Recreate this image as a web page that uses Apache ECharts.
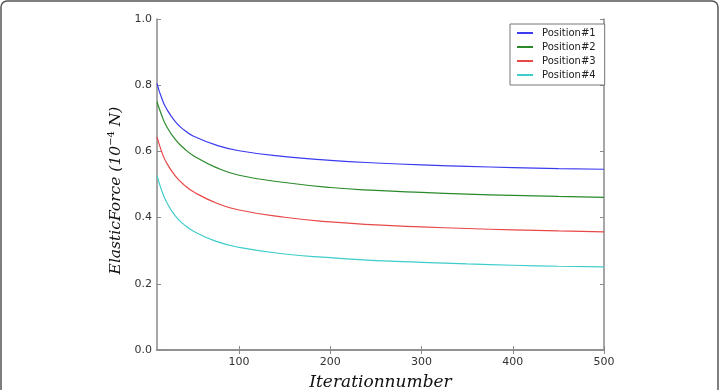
<!DOCTYPE html>
<html>
<head>
<meta charset="utf-8">
<script src="https://cdn.jsdelivr.net/npm/echarts@6/dist/echarts.min.js"></script>
<style>
html, body { margin: 0; padding: 0; background: #fff; }
#container { width: 721px; height: 390px; }
</style>
</head>
<body>
<div id="container"></div>
<script>
// iteration numbers where the curves were read
var iterations = [10, 15, 20, 30, 40, 50, 75, 100, 150, 200, 250, 300, 350, 400, 450, 500];
var pos1 = [0.805, 0.762, 0.731, 0.690, 0.664, 0.646, 0.619, 0.602, 0.584, 0.573, 0.565, 0.559, 0.555, 0.551, 0.548, 0.546];
var pos2 = [0.750, 0.710, 0.678, 0.636, 0.608, 0.587, 0.551, 0.528, 0.506, 0.491, 0.482, 0.476, 0.471, 0.467, 0.464, 0.461];
var pos3 = [0.644, 0.600, 0.568, 0.526, 0.498, 0.478, 0.444, 0.423, 0.401, 0.387, 0.378, 0.372, 0.367, 0.363, 0.360, 0.357];
var pos4 = [0.527, 0.483, 0.450, 0.405, 0.378, 0.359, 0.328, 0.310, 0.290, 0.279, 0.270, 0.265, 0.260, 0.256, 0.253, 0.251];
var names = ['Position#1', 'Position#2', 'Position#3', 'Position#4'];
var colors = ['#3b3bf0', '#2a8a2a', '#e84848', '#3fcccc'];
var xTicks = [100, 200, 300, 400, 500];

function pairs(ys) {
	var r = [];
	for (var i = 0; i < iterations.length; i++) r.push([iterations[i], ys[i]]);
	return r;
}

window.onload = function () {
	var myChart = echarts.init(document.getElementById('container'));
	var axisLine = { show: true, lineStyle: { color: '#8a8a8a', width: 1.5 } };
	var tickStyle = { show: true, inside: true, length: 4, lineStyle: { color: '#8a8a8a' } };
	var serif = '"DejaVu Serif", "Liberation Serif", serif';
	var all = [pos1, pos2, pos3, pos4];
	var series = [];
	for (var k = 0; k < all.length; k++) {
		series.push({
			name: names[k],
			type: 'line',
			data: pairs(all[k]),
			smooth: true,
			showSymbol: false,
			lineStyle: { width: 1.2, color: colors[k] },
			itemStyle: { color: colors[k] }
		});
	}
	myChart.setOption({
		animation: false,
		color: colors,
		grid: { left: 157, right: 117, top: 19, bottom: 40, outerBoundsMode: 'none' },
		graphic: [{
			type: 'rect',
			shape: { x: 1, y: 1, width: 717, height: 420, r: 6 },
			style: { fill: 'none', stroke: '#555', lineWidth: 1.5 },
			silent: true
		}],
		legend: {
			orient: 'vertical',
			left: 510,
			top: 24,
			padding: [4, 9, 5, 7],
			itemGap: 4,
			itemWidth: 16,
			itemHeight: 2,
			icon: 'rect',
			borderColor: '#777',
			borderWidth: 1,
			backgroundColor: '#fff',
			textStyle: { fontSize: 10, color: '#222', fontFamily: 'DejaVu Sans', padding: [0, 0, 0, 4] },
			data: names
		},
		xAxis: [{
			type: 'value',
			min: 10,
			max: 500,
			name: 'Iterationnumber',
			nameLocation: 'middle',
			nameGap: 24,
			nameTextStyle: { fontFamily: serif, fontStyle: 'italic', fontSize: 17, color: '#111' },
			axisLine: axisLine,
			axisTick: Object.assign({ customValues: xTicks }, tickStyle),
			axisLabel: { customValues: xTicks, fontSize: 11, color: '#333', fontFamily: 'DejaVu Sans', margin: 7 },
			splitLine: { show: false }
		}, {
			type: 'value',
			position: 'top',
			min: 10,
			max: 500,
			axisLine: axisLine,
			axisTick: Object.assign({ customValues: xTicks }, tickStyle),
			axisLabel: { show: false },
			splitLine: { show: false }
		}],
		yAxis: [{
			type: 'value',
			min: 0,
			max: 1,
			interval: 0.2,
			name: '{n|ElasticForce (10}{s|−4}{n| N)}',
			nameLocation: 'middle',
			nameRotate: 90,
			nameGap: 28,
			nameTextStyle: {
				padding: [0, 0, 0, -12],
				rich: {
					n: { fontFamily: serif, fontStyle: 'italic', fontSize: 15.5, color: '#111' },
					s: { fontFamily: serif, fontSize: 10, color: '#111', padding: [0, 0, 8, 0] }
				}
			},
			axisLine: axisLine,
			axisTick: tickStyle,
			axisLabel: {
				fontSize: 11, color: '#333', fontFamily: 'DejaVu Sans', margin: 5,
				formatter: function (v) { return v.toFixed(1); }
			},
			splitLine: { show: false }
		}, {
			type: 'value',
			position: 'right',
			min: 0,
			max: 1,
			interval: 0.2,
			axisLine: axisLine,
			axisTick: tickStyle,
			axisLabel: { show: false },
			splitLine: { show: false }
		}],
		series: series
	});
};
</script>
</body>
</html>
